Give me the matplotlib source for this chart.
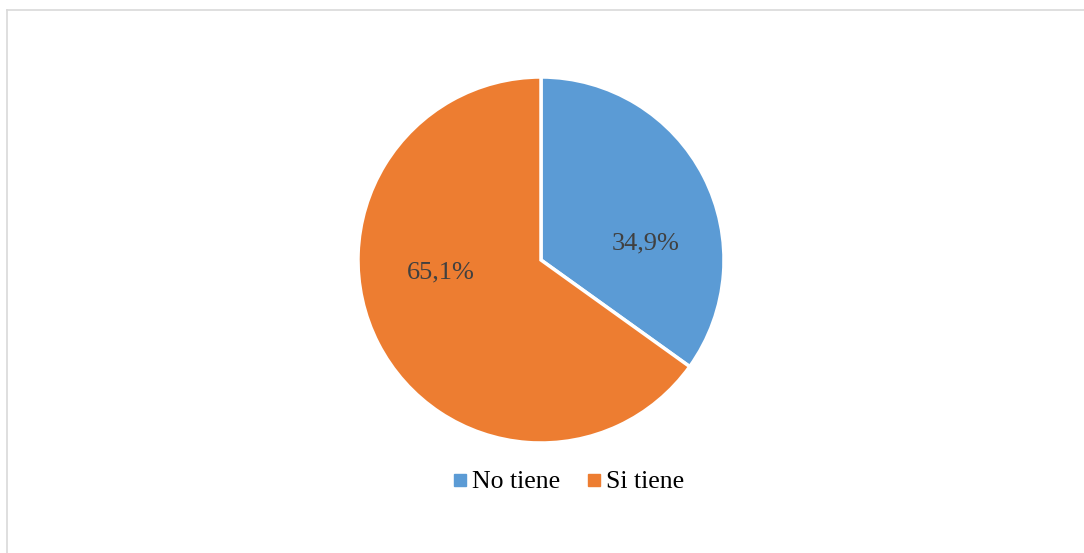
import matplotlib.pyplot as plt
from matplotlib.lines import Line2D

categorias = ['No tiene', 'Si tiene']
valores = [34.9, 65.1]
etiquetas = ['34,9%', '65,1%']
colores = ['#5B9BD5', '#ED7D31']

plt.rcParams['font.family'] = ['Liberation Serif', 'DejaVu Serif']

W, H = 1084, 553
fig = plt.figure(figsize=(W / 100, H / 100), dpi=100)

# marco gris del grafico (solo arriba e izquierda quedan dentro de la imagen)
x0, y0 = 6.5 / W, 1 - 9.5 / H
fig.add_artist(Line2D([x0, 1], [y0, y0], transform=fig.transFigure, color='#d9d9d9', lw=1.2))
fig.add_artist(Line2D([x0, x0], [0, y0], transform=fig.transFigure, color='#d9d9d9', lw=1.2))

cx, cy, r = 541, 260, 183
ax = fig.add_axes([(cx - r) / W, (H - cy - r) / H, 2 * r / W, 2 * r / H])
wedges, _ = ax.pie(valores, colors=colores, startangle=90, counterclock=False,
                   wedgeprops=dict(edgecolor='white', linewidth=2.5))
ax.set_xlim(-1, 1)
ax.set_ylim(-1, 1)
ax.set_aspect('equal')

# posiciones de las etiquetas (relativas al radio)
pos_etq = [(0.57, 0.09), (-0.55, -0.07)]
for (x, y), t in zip(pos_etq, etiquetas):
    ax.text(x, y, t, ha='center', va='center', fontsize=19, color='#404040')

handles = [Line2D([], [], marker='s', linestyle='', markersize=8,
                  markerfacecolor=c, markeredgecolor=c) for c in colores]
fig.legend(handles, categorias, loc='center', bbox_to_anchor=(567 / W, 1 - 482 / H),
           ncol=2, frameon=False, fontsize=18.5, handletextpad=0.05, columnspacing=0.95,
           handlelength=0.8)

fig.savefig('out.png', dpi=100)
